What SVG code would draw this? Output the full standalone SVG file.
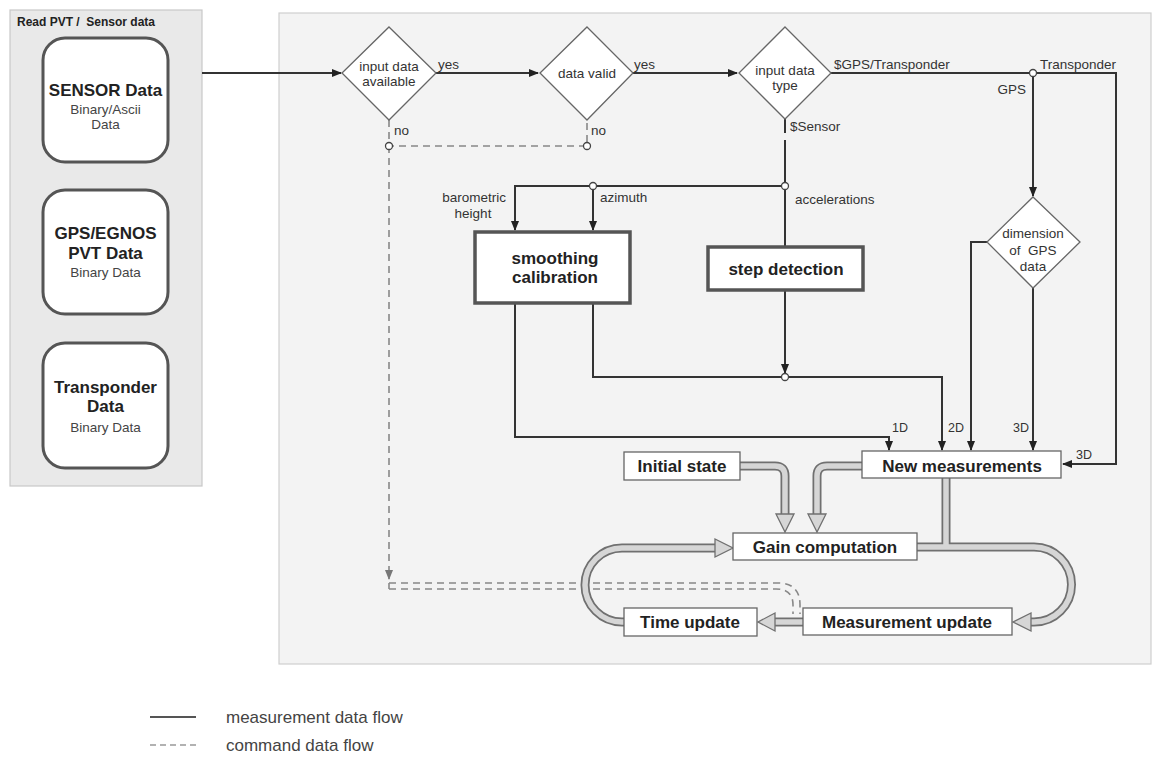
<svg xmlns="http://www.w3.org/2000/svg" width="1153" height="758" viewBox="0 0 1153 758">
<style>
text{font-family:"Liberation Sans",Arial,sans-serif;fill:#333}
.lbl{font-size:13.5px}
.dt{font-size:13.5px;text-anchor:middle}
.bt{font-size:17px;font-weight:bold;text-anchor:middle;fill:#222}
.st{font-size:13.5px;text-anchor:middle;fill:#444}
.dia{fill:#fff;stroke:#666;stroke-width:1.3}
.rnd{fill:#fff;stroke:#555;stroke-width:3}
.thk{fill:#fff;stroke:#555;stroke-width:3.5}
.box{fill:#fff;stroke:#666;stroke-width:1.3}
.ln{fill:none;stroke:#333;stroke-width:2}
.dsh{fill:none;stroke:#888;stroke-width:1.6;stroke-dasharray:7,5}
.jn{fill:#fff;stroke:#444;stroke-width:1.3}
.po{fill:none;stroke:#707070;stroke-width:9}
.pi{fill:none;stroke:#d6d6d6;stroke-width:5.5}
.ph{fill:#d6d6d6;stroke:#707070;stroke-width:1.3}
</style>
<defs>
<marker id="ar" markerWidth="10" markerHeight="8" refX="9" refY="4" orient="auto" markerUnits="userSpaceOnUse">
<path d="M0,0 L10,4 L0,8 Z" fill="#222"/>
</marker>
<marker id="ad" markerWidth="10" markerHeight="8" refX="9" refY="4" orient="auto" markerUnits="userSpaceOnUse">
<path d="M0,0 L10,4 L0,8 Z" fill="#777"/>
</marker>
</defs>
<rect width="1153" height="758" fill="#fff"/>
<!-- panels -->
<rect x="10" y="10" width="192" height="476" fill="#e9e9e9" stroke="#c8c8c8" stroke-width="1.2"/>
<text x="17" y="26" xml:space="preserve" style="font-size:12px;font-weight:bold;fill:#222">Read PVT /  Sensor data</text>
<rect x="279" y="13" width="872" height="651" fill="#f3f3f3" stroke="#cfcfcf" stroke-width="1.2"/>

<g id="connectors">
<!-- solid flow -->
<path class="ln" d="M202,73 H341" marker-end="url(#ar)"/>
<path class="ln" d="M436,73 H538" marker-end="url(#ar)"/>
<path class="ln" d="M633,73 H737" marker-end="url(#ar)"/>
<path class="ln" d="M831,73 H1116 V464 H1063" marker-end="url(#ar)"/>
<path class="ln" d="M1033,73 V196" marker-end="url(#ar)"/>
<path class="ln" d="M785,119 V133 M785,140 V247"/>
<path class="ln" d="M785,186 H515 V230" marker-end="url(#ar)"/>
<path class="ln" d="M593,186 V230" marker-end="url(#ar)"/>
<path class="ln" d="M785,290 V373" marker-end="url(#ar)"/>
<path class="ln" d="M515,303 V437 H889 V450" marker-end="url(#ar)"/>
<path class="ln" d="M593,303 V377 H942 V450" marker-end="url(#ar)"/>
<path class="ln" d="M987,242 H971 V450" marker-end="url(#ar)"/>
<path class="ln" d="M1033,288 V450" marker-end="url(#ar)"/>
<!-- dashed command flow -->
<path class="dsh" d="M389,120 V146 H587 V120"/>
<path class="dsh" d="M389,146 V579" marker-end="url(#ad)"/>
<path class="dsh" d="M389,583 H778 Q800,583 800,605 V614"/>
<path class="dsh" d="M389,589 H776 Q793,589 793,605 V614"/>
<path class="dsh" d="M389,583 V589"/>
<!-- junctions -->
<circle class="jn" cx="389" cy="146" r="3.5"/>
<circle class="jn" cx="587" cy="146" r="3.5"/>
<circle class="jn" cx="1033" cy="73" r="3.5"/>
<circle class="jn" cx="593" cy="186" r="3.5"/>
<circle class="jn" cx="785" cy="186" r="3.5"/>
<circle class="jn" cx="785" cy="377" r="3.5"/>
<!-- pipe arrows -->
<path class="po" d="M740,466 H775 Q785,466 785,476 V514"/>
<path class="pi" d="M740,466 H775 Q785,466 785,476 V515"/>
<polygon class="ph" points="776,514 794,514 785,532"/>
<path class="po" d="M862,466 H827 Q817,466 817,476 V514"/>
<path class="pi" d="M862,466 H827 Q817,466 817,476 V515"/>
<polygon class="ph" points="808,514 826,514 817,532"/>
<path class="po" d="M946,478 V547 M917,547 H1034 A37.5,37.5 0 0 1 1034,622 H1031"/>
<path class="pi" d="M946,478 V547 M917,547 H1034 A37.5,37.5 0 0 1 1034,622 H1030"/>
<polygon class="ph" points="1031,613 1031,631 1013,622"/>
<path class="po" d="M803,622 H775"/>
<path class="pi" d="M803,622 H774"/>
<polygon class="ph" points="775,613 775,631 758,622"/>
<path class="po" d="M624,622 H622 A37,37 0 0 1 622,548 H715"/>
<path class="pi" d="M624,622 H622 A37,37 0 0 1 622,548 H716"/>
<polygon class="ph" points="715,539 715,557 733,548"/>
<!-- labels -->
<text class="lbl" x="438" y="69">yes</text>
<text class="lbl" x="634" y="69">yes</text>
<text class="lbl" x="394" y="135">no</text>
<text class="lbl" x="591" y="135">no</text>
<text class="lbl" x="834" y="69">$GPS/Transponder</text>
<text class="lbl" x="1040" y="69">Transponder</text>
<text class="lbl" x="1026" y="94" text-anchor="end">GPS</text>
<text class="lbl" x="790" y="131">$Sensor</text>
<text class="lbl" x="506" y="202" text-anchor="end">barometric</text>
<text class="lbl" x="473" y="218" text-anchor="middle">height</text>
<text class="lbl" x="600" y="202">azimuth</text>
<text class="lbl" x="795" y="204">accelerations</text>
<text class="lbl" x="892" y="432" style="font-size:12.5px">1D</text>
<text class="lbl" x="948" y="432" style="font-size:12.5px">2D</text>
<text class="lbl" x="1013" y="432" style="font-size:12.5px">3D</text>
<text class="lbl" x="1076" y="459" style="font-size:12.5px">3D</text>
</g>

<g id="sensor">
<rect class="rnd" x="43" y="38" width="125" height="124" rx="22"/>
<text class="bt" x="105.5" y="96">SENSOR Data</text>
<text class="st" x="105.5" y="114">Binary/Ascii</text>
<text class="st" x="105.5" y="129">Data</text>
</g>
<g id="gps">
<rect class="rnd" x="43" y="190" width="125" height="124" rx="22"/>
<text class="bt" x="105.5" y="239">GPS/EGNOS</text>
<text class="bt" x="105.5" y="259">PVT Data</text>
<text class="st" x="105.5" y="277">Binary Data</text>
</g>
<g id="transponder">
<rect class="rnd" x="43" y="343" width="125" height="125" rx="22"/>
<text class="bt" x="105.5" y="393">Transponder</text>
<text class="bt" x="105.5" y="412">Data</text>
<text class="st" x="105.5" y="432">Binary Data</text>
</g>

<g id="d-available">
<polygon class="dia" points="389,27 436,73 389,120 342,73"/>
<text class="dt" x="389" y="71">input data</text>
<text class="dt" x="389" y="86">available</text>
</g>
<g id="d-valid">
<polygon class="dia" points="587,27 633,73 587,120 540,73"/>
<text class="dt" x="587" y="78">data valid</text>
</g>
<g id="d-type">
<polygon class="dia" points="785,27 831,73 785,119 739,73"/>
<text class="dt" x="785" y="75">input data</text>
<text class="dt" x="785" y="90">type</text>
</g>
<g id="d-dimension">
<polygon class="dia" points="1033,197 1080,242 1033,288 987,242"/>
<text class="dt" x="1033" y="238">dimension</text>
<text class="dt" x="1033" y="255" xml:space="preserve">of  GPS</text>
<text class="dt" x="1033" y="271">data</text>
</g>

<g id="smoothing">
<rect class="thk" x="475" y="232" width="155" height="71"/>
<text class="bt" x="555" y="264">smoothing</text>
<text class="bt" x="555" y="283">calibration</text>
</g>
<g id="step">
<rect class="thk" x="708" y="247" width="155" height="43"/>
<text class="bt" x="786" y="275">step detection</text>
</g>
<g id="newmeas">
<rect class="box" x="862" y="451" width="199" height="27"/>
<text class="bt" x="962" y="472">New measurements</text>
</g>
<g id="initial">
<rect class="box" x="624" y="452" width="116" height="28"/>
<text class="bt" x="682" y="472">Initial state</text>
</g>
<g id="gain">
<rect class="box" x="733" y="533" width="184" height="27"/>
<text class="bt" x="825" y="553">Gain computation</text>
</g>
<g id="timeupd">
<rect class="box" x="624" y="608" width="133" height="28"/>
<text class="bt" x="690" y="628">Time update</text>
</g>
<g id="measupd">
<rect class="box" x="803" y="608" width="209" height="27"/>
<text class="bt" x="907" y="628">Measurement update</text>
</g>

<g id="legend">
<line x1="150" y1="717" x2="196" y2="717" stroke="#555" stroke-width="2"/>
<text x="226" y="723" style="font-size:17px;fill:#444">measurement data flow</text>
<line x1="150" y1="745" x2="196" y2="745" stroke="#999" stroke-width="1.6" stroke-dasharray="6,4"/>
<text x="226" y="751" style="font-size:17px;fill:#444">command data flow</text>
</g>
</svg>
